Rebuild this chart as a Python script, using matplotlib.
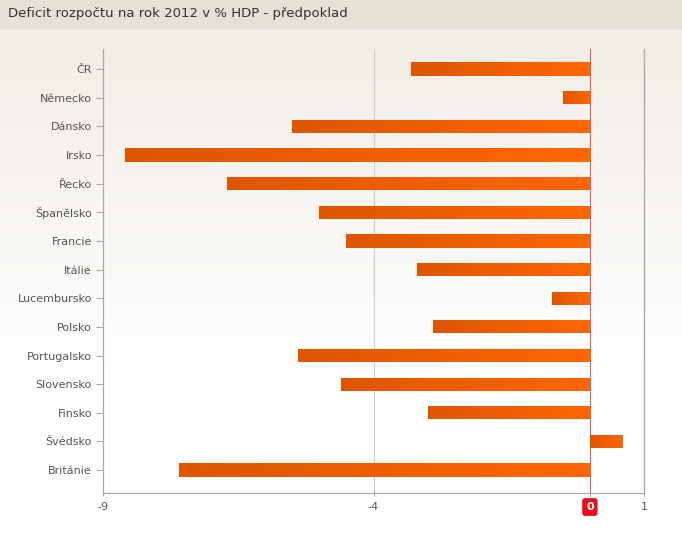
import numpy as np
import matplotlib.pyplot as plt
from matplotlib.patches import Rectangle

countries = ['ČR', 'Německo', 'Dánsko', 'Irsko', 'Řecko', 'Španělsko', 'Francie',
             'Itálie', 'Lucembursko', 'Polsko', 'Portugalsko', 'Slovensko',
             'Finsko', 'Švédsko', 'Británie']
deficit = [-3.3, -0.5, -5.5, -8.6, -6.7, -5.0, -4.5, -3.2, -0.7, -2.9,
           -5.4, -4.6, -3.0, 0.6, -7.6]
xticks = [-9, -4, 0, 1]

fig = plt.figure(figsize=(6.82, 5.45), dpi=100)

# background: title strip + soft beige-to-white gradient
bg = fig.add_axes([0, 0, 1, 1], zorder=-10)
grad = np.linspace(0, 1, 256).reshape(-1, 1)
c_top = np.array([0.945, 0.925, 0.898])
c_bot = np.array([1.0, 1.0, 1.0])
img = c_top + (c_bot - c_top) * np.clip(grad * 1.5, 0, 1)[..., None]
bg.imshow(img.reshape(256, 1, 3), aspect='auto', extent=[0, 1, 0, 1 - 28 / 545])
bg.add_patch(Rectangle((0, 1 - 28 / 545), 1, 28 / 545, color='#e6e1d6'))
bg.set_xlim(0, 1)
bg.set_ylim(0, 1)
bg.axis('off')
fig.text(0.012, 1 - 14 / 545, 'Deficit rozpočtu na rok 2012 v % HDP - předpoklad',
         fontsize=9.5, color='#333333', va='center', ha='left')

ax = fig.add_axes([103 / 682, 1 - 493 / 545, 541 / 682, 444 / 545])
ax.patch.set_alpha(0)

y = np.arange(len(countries))
bars = ax.barh(y, deficit, height=0.46, color='#f06000', zorder=3)

# horizontal orange gradient inside each bar (darker on the left)
bar_grad = np.linspace(0, 1, 64).reshape(1, -1)
c_l = np.array([0.87, 0.34, 0.0])
c_r = np.array([1.0, 0.40, 0.0])
bar_img = (c_l + (c_r - c_l) * bar_grad[..., None])
for b in bars:
    x0, yb, w, h = b.get_x(), b.get_y(), b.get_width(), b.get_height()
    xa, xb = min(x0, x0 + w), max(x0, x0 + w)
    im = ax.imshow(bar_img, aspect='auto', extent=[xa, xb, yb + h, yb], zorder=4)
    im.set_clip_path(b)

ax.set_xlim(-9, 1)
ax.set_ylim(14.8, -0.7)

ax.axvline(-4, color='#cccccc', lw=0.8, zorder=1)
ax.axvline(0, color='#e06060', lw=0.8, zorder=2)
ax.axvline(1, color='#aaaaaa', lw=1.0, zorder=1, clip_on=False)

ax.set_yticks(y)
ax.set_yticklabels(countries, fontsize=8, color='#555555')
ax.set_xticks(xticks)
ax.set_xticklabels(['-9', '-4', '0', '1'], fontsize=8, color='#555555')
ax.tick_params(axis='y', length=5, color='#aaaaaa', width=0.8, pad=3)
ax.tick_params(axis='x', length=5, color='#aaaaaa', width=0.8, pad=4, direction='inout')

for s in ['top', 'right']:
    ax.spines[s].set_visible(False)
for s in ['left', 'bottom']:
    ax.spines[s].set_color('#aaaaaa')
    ax.spines[s].set_linewidth(0.9)

# zero label on a red rounded box
zero = ax.get_xticklabels()[2]
zero.set_color('white')
zero.set_fontweight('bold')
zero.set_bbox(dict(boxstyle='round,pad=0.35,rounding_size=0.25', fc='#e8101c', ec='none'))

fig.savefig('out.png', dpi=100)
